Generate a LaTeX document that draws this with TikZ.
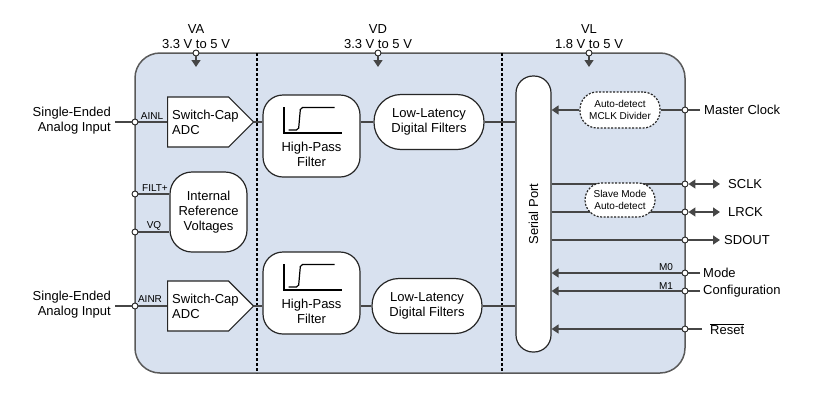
\documentclass[tikz,border=0pt]{standalone}
\usepackage{fontspec}
\setmainfont{Liberation Sans}
\usetikzlibrary{arrows.meta,shapes.symbols}
\definecolor{chipblue}{RGB}{216,225,239}
\definecolor{wiregray}{RGB}{70,70,70}
\newcommand{\nf}{\fontsize{13}{15}\selectfont}
\newcommand{\pf}{\fontsize{10}{12}\selectfont}

\begin{document}
\begin{tikzpicture}[x=1pt,y=-1pt,
    >={Triangle[length=7pt,width=9pt]},
    wire/.style={draw=wiregray,line width=1.3pt},
    block/.style={draw=black!85,fill=white,line width=1.2pt,font=\nf,align=center,inner sep=1pt},
    adc/.style={block,signal,signal to=east,signal pointer angle=90,minimum width=86pt,minimum height=50pt,inner sep=0pt,anchor=west},
    dashblock/.style={block,dash pattern=on 2pt off 1.5pt,rounded corners=17pt,font=\pf},
    term/.style={circle,draw=black!85,fill=white,line width=0.9pt,inner sep=0pt,minimum size=6pt},
    txt/.style={font=\nf,inner sep=1pt},
    pintxt/.style={font=\pf,inner sep=0pt}]

   \useasboundingbox (0,0) rectangle (818,402);
   % chip body and supply domains
   \draw[fill=chipblue,draw=black!65,line width=1.5pt,rounded corners=25pt] (135,53) rectangle (685,373);
   \foreach \x in {257,502} {
    \draw[line width=1.3pt,dash pattern=on 3pt off 2pt] (\x,53) -- (\x,373);
   }

   % blocks
   \node[adc] (adcL) at (167,122) {};
   \node[adc] (adcR) at (167,306) {};
   \node[txt,anchor=west,align=left] (adcL-t) at ([xshift=4pt]adcL.west) {Switch-Cap\\ADC};
   \node[txt,anchor=west,align=left] (adcR-t) at ([xshift=4pt]adcR.west) {Switch-Cap\\ADC};
   \node[block,rounded corners=22pt,minimum width=77pt,minimum height=80pt] (ref) at (208.5,212) {Internal\\Reference\\Voltages};
   \node[block,rounded corners=20pt,minimum width=97pt,minimum height=82pt] (hpfU) at (311.5,136) {};
   \node[block,rounded corners=20pt,minimum width=97pt,minimum height=82pt] (hpfL) at (311.5,293) {};
   \foreach \h in {hpfU,hpfL} {
    \node[txt,align=center] (\h-t) at ([yshift=-18.5pt]\h.center) {High-Pass\\Filter};
    \draw[line width=1.2pt] ([shift={(-27.5,-29)}]\h.center) -- ++(0,26) -- ++(58,0);
    \draw[line width=1.2pt,rounded corners=2pt] ([shift={(-23,-6)}]\h.center) -- ++(10,0) -- ++(2,-22.5) -- ++(34,0);
   }
   \node[block,rounded corners=27pt,minimum width=110pt,minimum height=55pt] (lldfU) at (429,122) {Low-Latency\\Digital Filters};
   \node[block,rounded corners=27pt,minimum width=110pt,minimum height=55pt] (lldfL) at (427,306) {Low-Latency\\Digital Filters};
   \node[block,rounded corners=17pt,minimum width=35pt,minimum height=276pt] (sp) at (533.5,214) {};
   \node[txt,rotate=90] (sp-t) at (sp) {Serial Port};
   \node[dashblock,minimum width=80pt,minimum height=36pt] (mdiv) at (620,110) {Auto-detect\\MCLK Divider};

   % supplies
   \foreach \n/\x/\v/\r in {va/196/VA/3.3 V to 5 V,vd/378/VD/3.3 V to 5 V,vl/589/VL/1.8 V to 5 V} {
    \node[term] (\n) at (\x,53) {};
    \coordinate (\n-in) at (\x,67);
    \draw[wire,->] (\n) -- (\n-in);
    \node[txt,above,align=center] (\n-t) at (\n.north) {\v\\\r};
   }

   % analog side
   \foreach \n/\y in {ainl/122,filt/194,vq/232,ainr/306} {
    \node[term] (\n) at (135,\y) {};
   }
   \coordinate (ainl-out) at (115,122);
   \coordinate (ainr-out) at (115,306);
   \draw[wire] (ainl-out) -- (ainl) -- (adcL.west);
   \draw[wire] (ainr-out) -- (ainr) -- (adcR.west);
   \draw[wire] (filt) -- (filt -| ref.west);
   \draw[wire] (vq) -- (vq -| ref.west);
   \node[txt,anchor=east,align=right] (inL-t) at (112,121) {Single-Ended\\Analog Input};
   \node[txt,anchor=east,align=right] (inR-t) at (112,305) {Single-Ended\\Analog Input};
   \node[pintxt] (ainl-t) at (152,116) {AINL};
   \node[pintxt] (filt-t) at (155,188) {FILT+};
   \node[pintxt] (vq-t)   at (154,226) {VQ};
   \node[pintxt] (ainr-t) at (150,299) {AINR};

   % signal chain
   \draw[wire] (adcL.east) -- (adcL.east -| hpfU.west);
   \draw[wire] (hpfU.east |- lldfU.west) -- (lldfU.west);
   \draw[wire] (lldfU.east) -- (lldfU.east -| sp.west);
   \draw[wire] (adcR.east) -- (adcR.east -| hpfL.west);
   \draw[wire] (hpfL.east |- lldfL.west) -- (lldfL.west);
   \draw[wire] (lldfL.east) -- (lldfL.east -| sp.west);

   % serial side
   \foreach \n/\y/\e in {mc/110/700,sclk/184/720,lrck/212/720,sdout/240/720,mzero/273/700,mone/291/700,rst/329/702} {
    \node[term] (\n) at (685,\y) {};
    \coordinate (\n-out) at (\e,\y);
   }
   \draw[wire] (mc-out) -- (mc) -- (mdiv);
   \draw[wire,->] (mdiv) -- (mdiv -| sp.east);
   \draw[wire] (sp.east |- sclk) -- (sclk);
   \draw[wire] (sp.east |- lrck) -- (lrck);
   \draw[wire] (sp.east |- sdout) -- (sdout);
   \draw[wire,<->] (sclk) -- (sclk-out);
   \draw[wire,<->] (lrck) -- (lrck-out);
   \draw[wire,->] (sdout) -- (sdout-out);
   \foreach \n in {mzero,mone,rst} {
    \draw[wire,->] (\n-out) -- (\n) -- (\n -| sp.east);
   }
   \node[dashblock,minimum width=70pt,minimum height=34pt] (slave) at (620,200) {Slave Mode\\Auto-detect};

   \node[txt,anchor=west] (mc-t)    at (703,110) {Master Clock};
   \node[txt,anchor=west] (sclk-t)  at (727,184) {SCLK};
   \node[txt,anchor=west] (lrck-t)  at (727,212) {LRCK};
   \node[txt,anchor=west] (sdout-t) at (723,240) {SDOUT};
   \node[txt,anchor=west] (mode-t)  at (702,273) {Mode};
   \node[txt,anchor=west] (conf-t)  at (702,291) {Configuration};
   \node[txt,anchor=west] (rst-t)   at (709,329) {$\overline{\mbox{Reset}}$};
   \node[pintxt] (mzero-t) at (666,267) {M0};
   \node[pintxt] (mone-t)  at (666,286) {M1};
\end{tikzpicture}
\end{document}
